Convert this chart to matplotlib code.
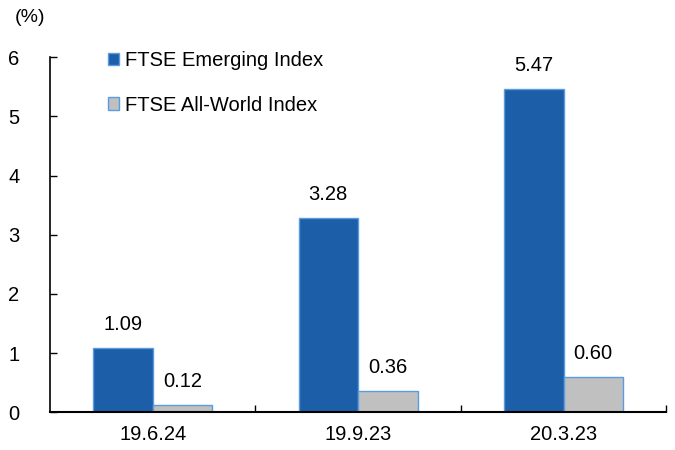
import numpy as np
import matplotlib
matplotlib.use("Agg")
import matplotlib.pyplot as plt

plt.rcParams['font.family'] = ['Liberation Sans', 'DejaVu Sans']

categories = ["19.6.24", "19.9.23", "20.3.23"]
emerging = [1.09, 3.28, 5.47]
all_world = [0.12, 0.36, 0.60]
series_names = ["FTSE Emerging Index", "FTSE All-World Index"]

BLUE = "#1c5ea8"
GRAY = "#c0c0c0"
EDGE = "#5b9be0"
FS = 14.5

fig = plt.figure(figsize=(6.75, 4.5), dpi=100)
ax = fig.add_axes([0.074, 0.084, 0.913, 0.789])

x = np.arange(len(categories))
w = 0.29
b1 = ax.bar(x - w / 2, emerging, w, color=BLUE, edgecolor=EDGE, linewidth=1, label=series_names[0])
b2 = ax.bar(x + w / 2, all_world, w, color=GRAY, edgecolor=EDGE, linewidth=1, label=series_names[1])

for rects, vals in ((b1, emerging), (b2, all_world)):
    for r, v in zip(rects, vals):
        ax.annotate(f"{v:.2f}", (r.get_x() + r.get_width() / 2, v),
                    xytext=(0, 10), textcoords="offset points",
                    ha="center", va="bottom", fontsize=FS)

ax.set_xlim(-0.5, 2.5)
ax.set_ylim(0, 6)
ax.set_yticks(range(7))
ax.set_xticks(x)
ax.set_xticklabels(categories, fontsize=FS)
ax.tick_params(axis="x", length=0, pad=9)
ax.set_xticks([0.5, 1.5, 2.5], minor=True)
ax.tick_params(axis="x", which="minor", direction="in", length=5, width=1)
ax.tick_params(axis="y", direction="in", length=5, width=1, labelsize=FS, pad=22)
for s in ("top", "right"):
    ax.spines[s].set_visible(False)
ax.spines["left"].set_linewidth(1.2)
ax.spines["bottom"].set_linewidth(1.5)

fig.text(0.022, 0.962, "(%)", fontsize=FS - 0.5, va="center")

ax.legend(loc="upper left", bbox_to_anchor=(0.064, 1.067), frameon=False,
          fontsize=FS, handlelength=0.55, handleheight=0.55, handletextpad=0.3,
          labelspacing=1.25)

fig.savefig("out.png", dpi=100)
